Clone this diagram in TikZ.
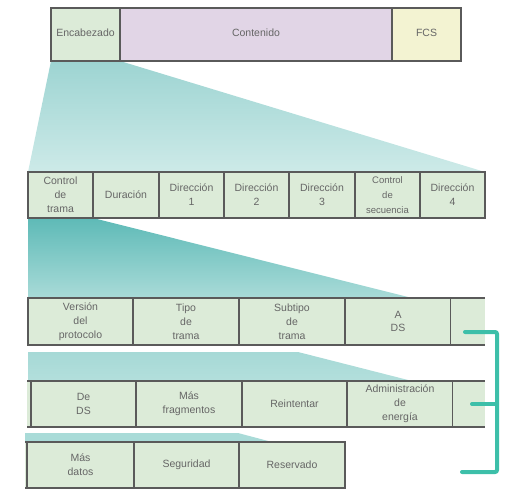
\documentclass[tikz,border=0pt]{standalone}
\usepackage{fontspec}
\setmainfont{Liberation Sans}
\usetikzlibrary{backgrounds}
\definecolor{cellgreen}{HTML}{DCEBD8}
\definecolor{lav}{HTML}{E1D5E6}
\definecolor{pyel}{HTML}{F3F3D2}
\definecolor{edge}{HTML}{5A5A5A}
\definecolor{txt}{HTML}{666666}
\definecolor{tealA}{HTML}{9DD4D2}
\definecolor{tealB}{HTML}{CDEAE8}
\definecolor{tealC}{HTML}{5EBAB7}
\definecolor{tealD}{HTML}{A9DBD8}
\definecolor{tealE}{HTML}{A6D9D6}
\definecolor{tealF}{HTML}{B3DFDC}
\definecolor{brk}{HTML}{3DBFA9}
\tikzset{
 cell/.style={draw=edge, line width=1.2pt, fill=cellgreen, inner sep=0pt, outer sep=0pt,
   anchor=north west, align=center, text=txt, font=\fontsize{10.5}{13.8}\selectfont},
 bare/.style={cell, draw=none},
 rowline/.style={draw=edge, line width=1.2pt},
 bracketline/.style={draw=brk, line width=4pt, line cap=round, rounded corners=2pt}
}
\newcommand{\cellnode}[7]{%
 \pgfmathsetmacro\cwd{#4-#3}\pgfmathsetmacro\cht{#6-#5}%
 \node[#1, minimum width=\cwd pt, minimum height=\cht pt] (#2) at (#3,#5) {#7};}
\begin{document}
\begin{tikzpicture}[x=1pt,y=-1pt]
\useasboundingbox (0,0) rectangle (516,502);
% row 1
\cellnode{cell}{enc}{51}{120}{8}{61}{\raisebox{3pt}{Encabezado}}
\cellnode{cell,fill=lav}{cont}{120}{392}{8}{61}{\raisebox{3pt}{Contenido}}
\cellnode{cell,fill=pyel}{fcs}{392}{461}{8}{61}{\raisebox{3pt}{FCS}}
% row 2
\cellnode{cell}{ra}{28}{93}{172}{218}{Control\\de\\trama}
\cellnode{cell}{rb}{93}{159}{172}{218}{Duración}
\cellnode{cell}{rc}{159}{224}{172}{218}{Dirección\\1}
\cellnode{cell}{rd}{224}{289}{172}{218}{Dirección\\2}
\cellnode{cell}{re}{289}{355}{172}{218}{Dirección\\3}
\cellnode{cell,font=\fontsize{9.5}{15}\selectfont}{rf}{355}{420}{172}{218}{Control\\de\\secuencia}
\cellnode{cell}{rg}{420}{485}{172}{218}{Dirección\\4}
% row 3
\cellnode{cell}{sa}{28}{133}{298}{345}{Versión\\del\\protocolo}
\cellnode{cell}{sb}{133}{239}{298}{345}{Tipo\\de\\trama}
\cellnode{cell}{sc}{239}{345}{298}{345}{Subtipo\\de\\trama}
\cellnode{cell}{sd}{345}{451}{298}{345}{A\\DS}
\cellnode{bare}{se}{451}{485}{298}{345}{}
\draw[rowline] (sa.north west) -- (se.north east);
\draw[rowline] (sa.south west) -- (se.south east);
% row 4
\cellnode{bare}{t0}{27}{31}{381}{427}{}
\cellnode{cell}{ta}{31}{136}{381}{427}{De\\DS}
\cellnode{cell}{tb}{136}{242}{381}{427}{Más\\fragmentos}
\cellnode{cell}{tc}{242}{347}{381}{427}{Reintentar}
\cellnode{cell}{td}{347}{453}{381}{427}{Administración\\de\\energía}
\cellnode{bare}{te}{453}{485}{381}{427}{}
\draw[rowline] (t0.north west) -- (te.north east);
\draw[rowline] (t0.south west) -- (te.south east);
% row 5
\cellnode{bare}{u0}{25}{27}{442}{488}{}
\cellnode{cell}{ua}{27}{134}{442}{488}{Más\\datos}
\cellnode{cell}{ub}{134}{239}{442}{488}{Seguridad}
\cellnode{cell}{uc}{239}{345}{442}{488}{Reservado}
\draw[rowline] (u0.north west) -- (ua.north west);
\draw[rowline] (u0.south west) -- (ua.south west);
% funnels
\begin{pgfonlayer}{background}
\shade[top color=tealA, bottom color=tealB] (enc.south west) -- (enc.south east) -- (rg.north east) -- (ra.north west) -- cycle;
\shade[top color=tealC, bottom color=tealD] (ra.south west) -- (ra.south east) -- (412,298) -- (sa.north west) -- cycle;
\shade[top color=tealE, bottom color=tealF] (28,352) -- (298,352) -- (412,381) -- (28,381) -- cycle;
\fill[tealD] (25,433) -- (238,433) -- (272,442) -- (u0.north west) -- cycle;
\end{pgfonlayer}
% bracket
\coordinate (b1) at (465,332);
\coordinate (b2) at (472,404);
\coordinate (b3) at (462,472);
\coordinate (bx) at (497,0);
\draw[bracketline] (b1) -- (b1 -| bx) -- (b3 -| bx) -- (b3);
\draw[bracketline] (b2) -- (b2 -| bx);
\end{tikzpicture}
\end{document}
